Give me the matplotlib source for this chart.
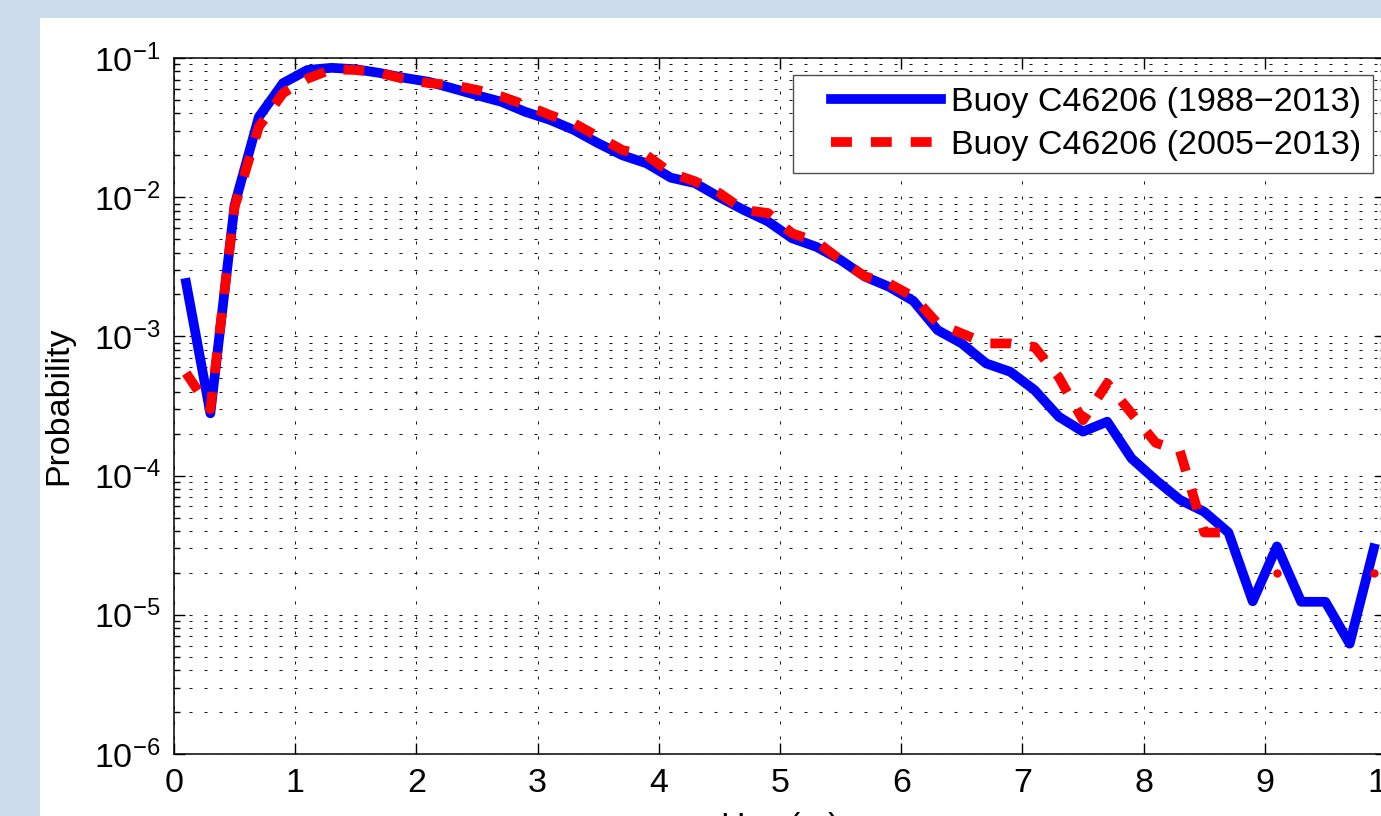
import numpy as np
import matplotlib
matplotlib.use('Agg')
import matplotlib.pyplot as plt
from matplotlib.patches import Rectangle
from matplotlib.ticker import LogLocator, NullFormatter
from matplotlib.legend_handler import HandlerLine2D

plt.rcParams.update({'font.family': 'Liberation Sans',
                     'mathtext.fontset': 'custom',
                     'mathtext.rm': 'Liberation Sans',
                     'mathtext.it': 'Liberation Sans:italic',
                     'mathtext.default': 'regular',
                     'font.size': 24.5})

# bin centres (m)
hs = np.round(np.arange(0.1, 10.0, 0.2), 1)

# Buoy C46206 (1988-2013)
p_all = [2.42e-3, 2.8e-4, 8.8e-3, 3.77e-2, 6.6e-2, 8.2e-2, 8.5e-2, 8.3e-2, 7.8e-2, 7.2e-2,
         6.75e-2, 6.05e-2, 5.4e-2, 4.85e-2, 4.1e-2, 3.6e-2, 3.04e-2, 2.44e-2, 2.0e-2, 1.75e-2,
         1.38e-2, 1.26e-2, 1.0e-2, 8.1e-3, 6.7e-3, 5.07e-3, 4.4e-3, 3.54e-3, 2.69e-3, 2.27e-3,
         1.8e-3, 1.11e-3, 8.9e-4, 6.4e-4, 5.57e-4, 4.12e-4, 2.65e-4, 2.07e-4, 2.44e-4, 1.33e-4,
         9.3e-5, 6.7e-5, 5.5e-5, 3.9e-5, 1.25e-5, 3.1e-5, 1.24e-5, 1.24e-5, 6.2e-6, 3.0e-5]

# Buoy C46206 (2005-2013), nan = empty bin
p_recent = [5.45e-4, 3.0e-4, 8.5e-3, 3.2e-2, 5.6e-2, 7.1e-2, 8.3e-2, 8.2e-2, 7.8e-2, 7.06e-2,
            6.6e-2, 6.4e-2, 5.9e-2, 5.3e-2, 4.6e-2, 3.9e-2, 3.4e-2, 2.72e-2, 2.18e-2, 2.0e-2,
            1.49e-2, 1.3e-2, 1.07e-2, 8.1e-3, 7.7e-3, 5.5e-3, 4.8e-3, 3.54e-3, 2.7e-3, 2.4e-3,
            1.93e-3, 1.24e-3, 1.05e-3, 8.9e-4, 8.9e-4, 8.4e-4, 5.1e-4, 2.5e-4, 4.6e-4, 2.8e-4,
            1.72e-4, 1.5e-4, 3.9e-5, 3.9e-5, np.nan, 2.0e-5, np.nan, np.nan, np.nan, 2.0e-5]

labels = ['Buoy C46206 (1988\u22122013)', 'Buoy C46206 (2005\u22122013)']

W, H = 1381, 816
fig = plt.figure(figsize=(W / 100, H / 100), dpi=100, facecolor='#cddcec')
fig.patches.append(Rectangle((40 / W, 0), 1, 1 - 18 / H, transform=fig.transFigure,
                             facecolor='white', edgecolor='none', zorder=-10))

ax = fig.add_axes([174 / W, 62 / H, (1386 - 174) / W, (754 - 58) / H])

l1, = ax.plot(hs, p_all, color='#0000ff', lw=7, solid_joinstyle='round', label=labels[0])
l2, = ax.plot(hs, p_recent, color='#ff0000', lw=7, dashes=(2.15, 1.95), label=labels[1])

# isolated bins of the red series show up as dots
pr = np.array(p_recent)
prev = np.r_[np.nan, pr[:-1]]
nxt = np.r_[pr[1:], np.nan]
iso = ~np.isnan(pr) & np.isnan(prev) & np.isnan(nxt)
ax.plot(hs[iso], pr[iso], 'o', color='#ff0000', ms=6, mec='none')

ax.set_yscale('log')
ax.set_xlim(0, 10)
ax.set_ylim(1e-6, 1e-1)
ax.set_xticks(range(0, 11))
ax.yaxis.set_major_locator(LogLocator(base=10, numticks=10))
ax.yaxis.set_minor_locator(LogLocator(base=10, subs=np.arange(2, 10), numticks=20))
ax.yaxis.set_minor_formatter(NullFormatter())

gl = dict(color='0.1', lw=0.75, linestyle=(0, (2.9, 11.5)))
ax.grid(True, which='major', axis='both', **gl)
ax.grid(True, which='minor', axis='y', **gl)
ax.set_axisbelow(True)

ax.tick_params(which='both', direction='in', top=True, right=True, width=1, pad=10)
ax.tick_params(which='major', length=8)
ax.tick_params(which='minor', length=4)
for s in ax.spines.values():
    s.set_linewidth(1.1)

ax.set_ylabel('Probability', labelpad=14)
ax.set_xlabel(r'H$_{m0}$ (m)', labelpad=8)

hmap = {l1: HandlerLine2D(xpad=0.76), l2: HandlerLine2D(xpad=0.76)}
ax.legend(handles=[l1, l2], handler_map=hmap, loc='upper right',
          bbox_to_anchor=(1373 / W, 1 - 75 / H), bbox_transform=fig.transFigure,
          borderaxespad=0, fancybox=False, framealpha=1, edgecolor='0.3', handlelength=4.0,
          handletextpad=0.3, labelspacing=0.35, borderpad=0.35)

fig.savefig('out.png', dpi=100, facecolor=fig.get_facecolor())
